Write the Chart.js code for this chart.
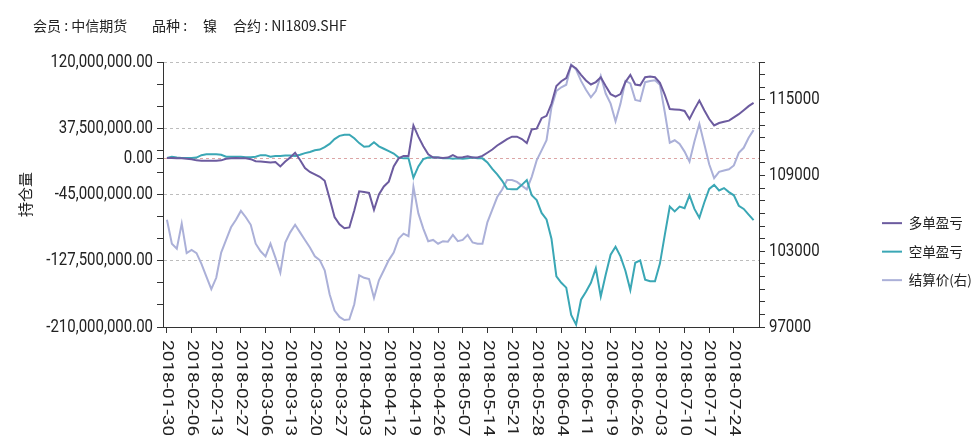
<!DOCTYPE html>
<html lang="zh-CN">
<head>
<meta charset="utf-8">
<title>NI1809.SHF 中信期货 持仓盈亏</title>
<script src="https://cdn.jsdelivr.net/npm/chart.js@4.4.1/dist/chart.umd.min.js"></script>
<style>
    html, body { margin: 0; padding: 0; background: #fff; }
    #wrap { position: relative; width: 972px; height: 442px; }
    #header { position: absolute; top: 15px; left: 0; font: 14px "Noto Sans CJK SC", sans-serif; color: #222; }
    #header span { position: absolute; white-space: nowrap; }
</style>
</head>
<body>
<div id="wrap">
    <canvas id="pnlChart" width="972" height="442"></canvas>
    <div id="header">
        <span style="left:33px">会员 : 中信期货</span>
        <span style="left:152px">品种 :</span>
        <span style="left:203px">镍</span>
        <span style="left:233px">合约 : NI1809.SHF</span>
    </div>
</div>

<script>
// trading days shown on the x axis
const dates = [
    '2018-01-30', '2018-01-31', '2018-02-01', '2018-02-02', '2018-02-05', '2018-02-06', '2018-02-07', '2018-02-08', '2018-02-09', '2018-02-12',
    '2018-02-13', '2018-02-14', '2018-02-22', '2018-02-23', '2018-02-26', '2018-02-27', '2018-02-28', '2018-03-01', '2018-03-02', '2018-03-05',
    '2018-03-06', '2018-03-07', '2018-03-08', '2018-03-09', '2018-03-12', '2018-03-13', '2018-03-14', '2018-03-15', '2018-03-16', '2018-03-19',
    '2018-03-20', '2018-03-21', '2018-03-22', '2018-03-23', '2018-03-26', '2018-03-27', '2018-03-28', '2018-03-29', '2018-03-30', '2018-04-02',
    '2018-04-03', '2018-04-04', '2018-04-09', '2018-04-10', '2018-04-11', '2018-04-12', '2018-04-13', '2018-04-16', '2018-04-17', '2018-04-18',
    '2018-04-19', '2018-04-20', '2018-04-23', '2018-04-24', '2018-04-25', '2018-04-26', '2018-04-27', '2018-05-02', '2018-05-03', '2018-05-04',
    '2018-05-07', '2018-05-08', '2018-05-09', '2018-05-10', '2018-05-11', '2018-05-14', '2018-05-15', '2018-05-16', '2018-05-17', '2018-05-18',
    '2018-05-21', '2018-05-22', '2018-05-23', '2018-05-24', '2018-05-25', '2018-05-28', '2018-05-29', '2018-05-30', '2018-05-31', '2018-06-01',
    '2018-06-04', '2018-06-05', '2018-06-06', '2018-06-07', '2018-06-08', '2018-06-11', '2018-06-12', '2018-06-13', '2018-06-14', '2018-06-15',
    '2018-06-19', '2018-06-20', '2018-06-21', '2018-06-22', '2018-06-25', '2018-06-26', '2018-06-27', '2018-06-28', '2018-06-29', '2018-07-02',
    '2018-07-03', '2018-07-04', '2018-07-05', '2018-07-06', '2018-07-09', '2018-07-10', '2018-07-11', '2018-07-12', '2018-07-13', '2018-07-16',
    '2018-07-17', '2018-07-18', '2018-07-19', '2018-07-20', '2018-07-23', '2018-07-24', '2018-07-25', '2018-07-26', '2018-07-27', '2018-07-30'
];

// 多单盈亏, in millions
const longPnl = [
    0.5, 0.5, 0, 0, -0.5, -1, -2.5, -3, -3, -3,
    -3, -2.5, -0.5, 0, 0.5, 0, 0, -1, -3.5, -4,
    -4.5, -5, -4.5, -10, -4, 1, 7, -2, -12, -17,
    -20, -23, -28, -50, -73, -82, -87, -86, -65, -41,
    -42, -43, -64, -45, -35, -29, -10, 0, 3, 3,
    41, 27, 15, 5, 1, 1, 0.5, 1, 4, 1,
    1.5, 2.5, 1, 1, 3, 7, 11, 16, 20, 24,
    27, 27, 24, 19, 36, 37, 50, 53, 68, 90,
    96, 100, 116, 112, 104, 97, 92, 95, 101, 90,
    80, 77, 80, 95, 104, 92, 91, 101, 102, 101,
    94, 79, 61.5, 61, 60.5, 59, 49, 61, 72, 60,
    49, 41, 44, 45.5, 47, 51, 55, 60, 65, 69
];

// 空单盈亏, in millions
const shortPnl = [
    0.5, 2, 1, 0.5, 0.5, 0.5, 1, 4, 5, 5,
    5, 4.5, 2, 2, 2, 2, 1.5, 1.5, 2, 4,
    4, 2, 3, 3, 3.5, 3.5, 3, 4.5, 6.5, 8,
    10, 11, 14, 18, 24, 28, 29.5, 29.5, 25, 19,
    14.5, 15, 20, 15, 12, 9, 6, 1, 0, 0,
    -24, -10, -1, 1, 1.5, 1, 0, 0.5, -0.5, 0,
    -0.5, 0, 1, 0, 0, -5, -13, -20, -28, -38,
    -38.5, -38.5, -33, -27, -46, -52, -68, -76, -100, -147,
    -155, -161, -195, -207, -176, -166, -155, -137, -172, -145,
    -120, -110, -122, -140, -164, -130, -127, -151, -153, -153,
    -131, -95, -60, -66, -60, -62, -46, -63, -74, -55,
    -38, -33, -40, -37, -42, -46, -59, -63, -70, -77
];

// 结算价 (right axis)
const settlePrice = [
    105500, 103600, 103200, 105200, 102850, 103100, 102850, 102000, 101000, 100000,
    100900, 102900, 103900, 104900, 105500, 106200, 105700, 105100, 103600, 103000,
    102600, 103600, 102500, 101300, 103700, 104500, 105100, 104500, 103900, 103300,
    102600, 102300, 101500, 99600, 98300, 97800, 97550, 97600, 98800, 101100,
    100900, 100800, 99300, 100700, 101500, 102300, 102900, 104000, 104400, 104200,
    108100, 106000, 104800, 103800, 103900, 103600, 103800, 103760, 104300, 103800,
    103900, 104300, 103700, 103600, 103600, 105300, 106300, 107300, 107900, 108650,
    108650, 108500, 108200, 107900, 108900, 110200, 111000, 111800, 114400, 115700,
    116000, 116200, 117800, 117400, 116500, 115800, 115200, 115700, 116900, 115500,
    114700, 113300, 114700, 116500, 116300, 115000, 114900, 116400, 116500, 116550,
    116200, 114000, 111600, 111800, 111500, 110900, 110100, 111700, 113100, 111500,
    109900, 108800, 109300, 109400, 109500, 109800, 110800, 111200, 112000, 112600
];

// axis ticks (left axis in millions)
const leftTicks = [120, 92.5, 65, 37.5, 10, 0, -17.5, -45, -72.5, -100, -127.5, -155, -182.5, -210];
const leftLabeled = [120, 37.5, 0, -45, -127.5, -210];
const rightLabeled = [97000, 103000, 109000, 115000];

const FONT = '"Noto Sans CJK SC", "Noto Sans", sans-serif';
const NUM_FONT = '15px Roboto, "Noto Sans", sans-serif';
Chart.defaults.font.family = FONT;
Chart.defaults.color = '#222';

const fmtMoney = (v) => v.toLocaleString('en-US', { minimumFractionDigits: 2, maximumFractionDigits: 2 });

// tick labels are drawn here: the x ones read top-to-bottom and all of them
// are a bit taller than wide, neither of which Chart.js does itself
const axisLabelPlugin = {
    id: 'axisLabels',
    afterDraw(chart) {
        const ctx = chart.ctx;
        const { x, y, y1 } = chart.scales;
        ctx.save();
        ctx.font = NUM_FONT;
        ctx.fillStyle = '#222';
        ctx.textBaseline = 'middle';

        ctx.textAlign = 'left';
        x.ticks.forEach((t) => {
            ctx.save();
            ctx.translate(x.getPixelForValue(t.value), x.top + 13);
            ctx.rotate(Math.PI / 2);
            ctx.scale(1.27, 1);
            ctx.fillText(dates[t.value], 0, 0);
            ctx.restore();
        });

        ctx.textAlign = 'right';
        y.ticks.forEach((t) => {
            if (!leftLabeled.includes(t.value / 1e6)) return;
            ctx.save();
            ctx.translate(y.right - 10, y.getPixelForValue(t.value));
            ctx.scale(1, 1.2);
            ctx.fillText(fmtMoney(t.value), 0, 0);
            ctx.restore();
        });

        ctx.textAlign = 'left';
        y1.ticks.forEach((t) => {
            if (!rightLabeled.includes(t.value)) return;
            ctx.save();
            ctx.translate(y1.left + 10, y1.getPixelForValue(t.value));
            ctx.scale(1, 1.2);
            ctx.fillText(String(t.value), 0, 0);
            ctx.restore();
        });
        ctx.restore();
    }
};

const series = (arr, k) => arr.map((v, i) => ({ x: i, y: v * k }));

const ctx = document.getElementById('pnlChart').getContext('2d');
new Chart(ctx, {
    type: 'line',
    data: {
        datasets: [{
            label: '多单盈亏',
            data: series(longPnl, 1e6),
            yAxisID: 'y',
            borderColor: '#6c5b9f',
            backgroundColor: '#6c5b9f',
            borderWidth: 2,
            pointRadius: 0,
            tension: 0
        }, {
            label: '空单盈亏',
            data: series(shortPnl, 1e6),
            yAxisID: 'y',
            borderColor: '#3aa7b5',
            backgroundColor: '#3aa7b5',
            borderWidth: 2,
            pointRadius: 0,
            tension: 0
        }, {
            label: '结算价(右)',
            data: series(settlePrice, 1),
            yAxisID: 'y1',
            borderColor: '#abb0d8',
            backgroundColor: '#abb0d8',
            borderWidth: 2,
            pointRadius: 0,
            tension: 0
        }]
    },
    options: {
        responsive: false,
        animation: false,
        layout: { padding: { top: 62 } },
        plugins: {
            tooltip: { enabled: false },
            legend: {
                position: 'right',
                align: 'start',
                maxWidth: 105,
                title: { display: true, text: '', padding: { top: 125, bottom: 0 } },
                labels: {
                    boxWidth: 20,
                    boxHeight: 2,
                    padding: 15,
                    color: '#222',
                    font: { size: 13.5 },
                    generateLabels: (chart) => Chart.defaults.plugins.legend.labels.generateLabels(chart)
                        .map((l) => Object.assign(l, { lineWidth: 0 }))
                }
            }
        },
        scales: {
            x: {
                type: 'linear',
                min: -0.8,
                max: 120.1,
                afterBuildTicks: (sc) => {
                    sc.ticks = dates.map((d, i) => i).filter((i) => i % 5 === 0).map((v) => ({ value: v }));
                },
                afterFit: (sc) => { sc.height = 115; },
                ticks: { display: false },
                grid: { drawOnChartArea: false, tickLength: 6, tickColor: '#333' },
                border: { color: '#333' }
            },
            y: {
                type: 'linear',
                position: 'left',
                min: -210e6,
                max: 120e6,
                afterBuildTicks: (sc) => {
                    sc.ticks = leftTicks.map((v) => ({ value: v * 1e6 }));
                },
                afterFit: (sc) => { sc.width = 163; },
                ticks: { display: false },
                grid: {
                    color: (c) => {
                        const v = c.tick ? c.tick.value / 1e6 : null;
                        if (v === 0) return '#dca6a6';
                        return leftLabeled.includes(v) ? '#bdbdbd' : 'rgba(0,0,0,0)';
                    },
                    tickColor: '#333',
                    tickLength: 6
                },
                border: { color: '#333', dash: [3, 3] },
                title: {
                    display: true,
                    text: '持仓量',
                    color: '#222',
                    font: { size: 15 },
                    padding: { top: 16, bottom: 0 }
                }
            },
            y1: {
                type: 'linear',
                position: 'right',
                min: 97000,
                max: 118000,
                afterFit: (sc) => { sc.width = sc.chart.width - sc.chart.legend.width - 759; },
                ticks: { display: false, stepSize: 1000, autoSkip: false },
                grid: { drawOnChartArea: false, tickColor: '#333', tickLength: 6 },
                border: { color: '#333' }
            }
        }
    },
    plugins: [axisLabelPlugin]
});
</script>
</body>
</html>
